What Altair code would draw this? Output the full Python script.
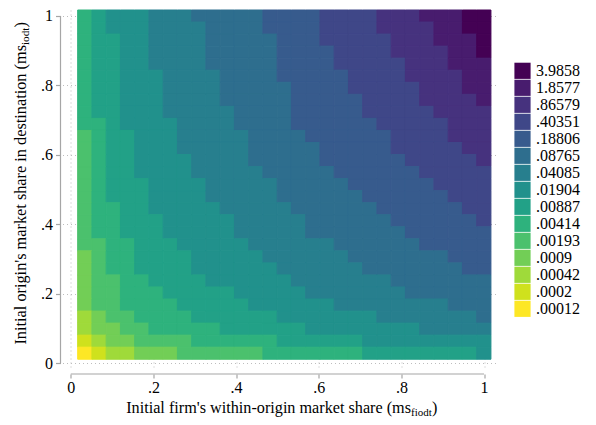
import altair as alt
import pandas as pd
import numpy as np

# ---- data ----
# legend labels, top (darkest) to bottom (yellow)
LEGEND_LABELS = ["3.9858", "1.8577", ".86579", ".40351", ".18806", ".08765", ".04085",
                 ".01904", ".00887", ".00414", ".00193", ".0009", ".00042", ".0002", ".00012"]
COLORS = ["#440154", "#481c6e", "#46327e", "#3f4788", "#375b8d", "#2e6e8e", "#277f8e",
          "#21918c", "#22a187", "#2eb27d", "#4bc16d", "#72ce56", "#9fda3a", "#cfe11d", "#fde725"]

# bin index of each cell (0 = .00012 ... e = 3.9858), rows top (y=1) to bottom (y=0), cols left to right
GRID = [
    "5677788899999aaaabbbbcccdddee",
    "5677788889999aaaabbbbccccddee",
    "56677888899999aaabbbbbcccddde",
    "56677888899999aaaabbbbccccdde",
    "56677888899999aaaabbbbbcccddd",
    "56677788889999aaaaabbbbccccdd",
    "566777888899999aaaabbbbbcccdd",
    "566777888899999aaaaabbbbccccd",
    "566777888889999aaaaabbbbbcccc",
    "556777788889999aaaaaabbbbbccc",
    "4566777888889999aaaaaabbbbccc",
    "45667778888899999aaaaabbbbbcc",
    "45667777888899999aaaaaabbbbbc",
    "456677778888899999aaaaaabbbbb",
    "4566677778888899999aaaaaabbbb",
    "45666777788888999999aaaaaabbb",
    "455667777788888999999aaaaaabb",
    "4556667777788888999999aaaaaab",
    "45566677777888889999999aaaaaa",
    "445566677777888888999999aaaaa",
    "34556666777778888889999999aaa",
    "345566667777778888889999999aa",
    "34455666677777788888889999999",
    "34455566666777778888888999999",
    "34455556666677777788888888999",
    "23445555666666777777788888889",
    "23344555556666667777777788888",
    "12334444555555666666777777777",
    "01223334444445555555666666667",
]
X_RANGE = [0.0167, 1.0167]   # outer edges of the cell grid
Y_RANGE = [0.011, 1.017]
TICKS = [0, 0.2, 0.4, 0.6, 0.8, 1]

X_TITLE = ["Initial firm's within-origin market share (ms", "fiodt", ")"]
Y_TITLE = ["Initial origin's market share in destination (ms", "iodt", ")"]

# ---- build table ----
nrow, ncol = len(GRID), len(GRID[0])
for row in GRID:
    assert len(row) == ncol, row
xe = np.linspace(X_RANGE[0], X_RANGE[1], ncol + 1)
ye = np.linspace(Y_RANGE[1], Y_RANGE[0], nrow + 1)
recs = []
for r, row in enumerate(GRID):
    for c, ch in enumerate(row):
        b = int(ch, 16)
        recs.append({"x0": xe[c], "x1": xe[c + 1], "y0": ye[r + 1], "y1": ye[r],
                     "lab": LEGEND_LABELS[14 - b]})
df = pd.DataFrame(recs)

FONT = "Liberation Serif"
W, H = 436, 360
XDOM = [-0.02, 1.035]
YDOM = [-0.02, 1.017]
AXIS_GRAY = "#a6a6a6"

label_expr = "datum.value == 0 ? '0' : datum.value == 1 ? '1' : '.' + round(datum.value * 10)"

xs = alt.Scale(domain=XDOM, nice=False, zero=False)
ys = alt.Scale(domain=YDOM, nice=False, zero=False)
cscale = alt.Scale(domain=LEGEND_LABELS, range=COLORS)

AX = alt.Axis(values=TICKS, labelExpr=label_expr, title=None, domain=False, offset=4,
              tickSize=4, labelPadding=1, grid=True)
AY = alt.Axis(values=TICKS, labelExpr=label_expr, title=None, domain=False, offset=2,
              tickSize=5, labelPadding=3, grid=True, labelAngle=0)

heat = alt.Chart(df).mark_rect(strokeWidth=1, strokeOpacity=1).encode(
    x=alt.X("x0:Q", scale=xs, axis=AX),
    x2="x1:Q",
    y=alt.Y("y0:Q", scale=ys, axis=AY),
    y2="y1:Q",
    color=alt.Color("lab:N", scale=cscale,
                    legend=alt.Legend(orient="none", legendX=451.5, legendY=52.3, title=None,
                                      symbolType="square", symbolSize=262, symbolStrokeWidth=0,
                                      symbolOpacity=1, rowPadding=-0.85, padding=0, labelOffset=5,
                                      labelFont=FONT, labelFontSize=16, labelColor="black",
                                      labelOverlap=False, labelLimit=0)),
    stroke=alt.Stroke("lab:N", scale=cscale, legend=None),
)

xline = alt.Chart(pd.DataFrame({"x0": [0], "x1": [1]})).mark_rule(
    color=AXIS_GRAY, strokeWidth=1.2).encode(
    x=alt.X("x0:Q", scale=xs, axis=AX), x2="x1:Q", y=alt.value(H + 4))
yline = alt.Chart(pd.DataFrame({"y0": [0], "y1": [1]})).mark_rule(
    color=AXIS_GRAY, strokeWidth=1.2).encode(
    y=alt.Y("y0:Q", scale=ys, axis=AY), y2="y1:Q", x=alt.value(-2))

def txt(s, x, y, size, align, angle=0):
    return alt.Chart(pd.DataFrame({"t": [s]})).mark_text(
        font=FONT, fontSize=size, align=align, baseline="alphabetic", angle=angle,
        color="black").encode(text="t:N", x=alt.value(x), y=alt.value(y))

P = 348.5
xt = [txt(X_TITLE[0], P, 403, 16.2, "right"),
      txt(X_TITLE[1], P, 406, 11, "left"),
      txt(X_TITLE[2], P + 21, 403, 16.2, "left")]
Q = 35
yt = [txt(Y_TITLE[0], -36.5, Q, 16.3, "right", 270),
      txt(Y_TITLE[1], -33.5, Q, 11.2, "left", 270),
      txt(Y_TITLE[2], -36.5, Q - 17.4, 16.3, "left", 270)]

chart = alt.layer(heat, xline, yline, *xt, *yt).properties(
    width=W, height=H,
    padding={"left": 54.5, "top": 2, "right": 85, "bottom": 47},
    autosize=alt.AutoSizeParams(type="none"),
).configure_view(stroke=None).configure_axis(
    labelFont=FONT, labelFontSize=16, labelColor="black",
    tickColor=AXIS_GRAY, tickWidth=1.2,
    gridColor="#bdbdbd", gridDash=[1, 3], gridWidth=1,
).configure_legend(labelFont=FONT, labelFontSize=16)

chart.save("out.html", embed_options={"renderer": "svg", "actions": False})
